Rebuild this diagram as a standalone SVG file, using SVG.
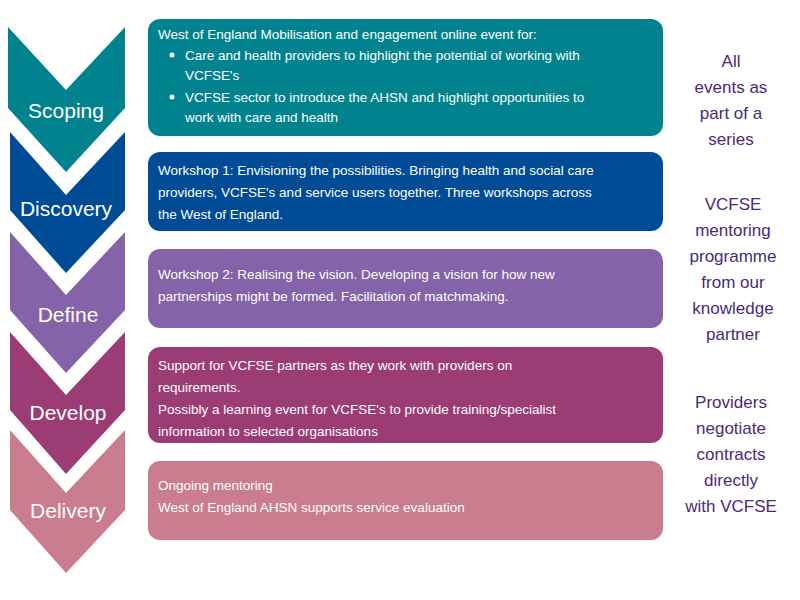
<svg xmlns="http://www.w3.org/2000/svg" width="800" height="600" viewBox="0 0 800 600">
<style>
.lbl{font-family:"Liberation Sans",Arial,sans-serif;font-size:21px;fill:#fff;text-anchor:middle}
.t{font-family:"Liberation Sans",Arial,sans-serif;font-size:13.5px;fill:#fff}
.s{font-family:"Liberation Sans",Arial,sans-serif;font-size:17px;fill:#4a2a7a;text-anchor:middle}
</style>
<rect width="800" height="600" fill="#fff"/>
<g id="scoping"><polygon points="8,27 66,90 125,27 125,108 66,172 8,108" fill="#00838f"/><text class="lbl" x="66" y="118">Scoping</text></g>
<g id="discovery"><polygon points="10,132 66,195 125,132 125,210 66,273 10,210" fill="#004b96"/><text class="lbl" x="66" y="216">Discovery</text></g>
<g id="define"><polygon points="10,232 66,295 125,232 125,310 66,373 10,310" fill="#8463a8"/><text class="lbl" x="68" y="322">Define</text></g>
<g id="develop"><polygon points="10,332 66,395 125,332 125,410 66,474 10,410" fill="#9b3c74"/><text class="lbl" x="68" y="420">Develop</text></g>
<g id="delivery"><polygon points="10,430 66,493 125,430 125,510 66,573 10,510" fill="#c97d8e"/><text class="lbl" x="68" y="518">Delivery</text></g>
<g id="box1"><rect x="148" y="19" width="515" height="117" rx="12" fill="#00838f"/>
<text class="t" x="158" y="39">West of England Mobilisation and engagement online event for:</text>
<circle cx="172" cy="55" r="2.5" fill="#fff"/><text class="t" x="185" y="60">Care and health providers to highlight the potential of working with</text>
<text class="t" x="185" y="80">VCFSE's</text>
<circle cx="172" cy="97" r="2.5" fill="#fff"/><text class="t" x="185" y="102">VCFSE sector to introduce the AHSN and highlight opportunities to</text>
<text class="t" x="185" y="122">work with care and health</text></g>
<g id="box2"><rect x="148" y="152" width="515" height="79" rx="12" fill="#004b96"/>
<text class="t" x="158" y="175">Workshop 1: Envisioning the possibilities. Bringing health and social care</text>
<text class="t" x="158" y="197">providers, VCFSE's and service users together. Three workshops across</text>
<text class="t" x="158" y="219">the West of England.</text></g>
<g id="box3"><rect x="148" y="249" width="515" height="79" rx="12" fill="#8463a8"/>
<text class="t" x="158" y="279">Workshop 2: Realising the vision. Developing a vision for how new</text>
<text class="t" x="158" y="301">partnerships might be formed. Facilitation of matchmaking.</text></g>
<g id="box4"><rect x="148" y="347" width="515" height="96" rx="12" fill="#9b3c74"/>
<text class="t" x="158" y="370">Support for VCFSE partners as they work with providers on</text>
<text class="t" x="158" y="392">requirements.</text>
<text class="t" x="158" y="414">Possibly a learning event for VCFSE's to provide training/specialist</text>
<text class="t" x="158" y="436">information to selected organisations</text></g>
<g id="box5"><rect x="148" y="461" width="515" height="79" rx="12" fill="#c97d8e"/>
<text class="t" x="158" y="490">Ongoing mentoring</text>
<text class="t" x="158" y="512">West of England AHSN supports service evaluation</text></g>
<g id="notes">
<text class="s" x="731" y="67">All</text><text class="s" x="731" y="93">events as</text><text class="s" x="731" y="119">part of a</text><text class="s" x="731" y="145">series</text>
<text class="s" x="733" y="210">VCFSE</text><text class="s" x="733" y="236">mentoring</text><text class="s" x="733" y="262">programme</text><text class="s" x="733" y="288">from our</text><text class="s" x="733" y="314">knowledge</text><text class="s" x="733" y="340">partner</text>
<text class="s" x="731" y="408">Providers</text><text class="s" x="731" y="434">negotiate</text><text class="s" x="731" y="460">contracts</text><text class="s" x="731" y="486">directly</text><text class="s" x="731" y="512">with VCFSE</text>
</g>
<g id="connectors"/>
</svg>
